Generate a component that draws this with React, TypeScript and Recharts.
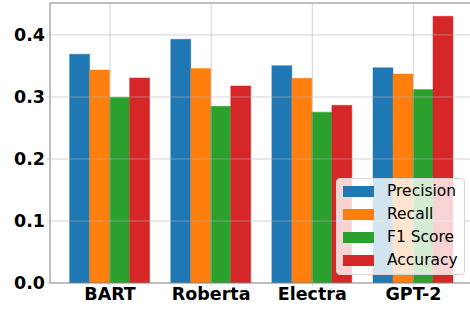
import React from "react";
import { BarChart, Bar, XAxis, YAxis, ReferenceLine } from "recharts";

const models = ["BART", "Roberta", "Electra", "GPT-2"];
const precision = [0.369, 0.393, 0.3505, 0.347];
const recall = [0.3435, 0.3457, 0.33, 0.337];
const f1Score = [0.2995, 0.285, 0.2755, 0.312];
const accuracy = [0.3306, 0.3177, 0.2866, 0.43];
const yTicks = [0, 0.1, 0.2, 0.3, 0.4];
const yMax = 0.4515;

const seriesNames = ["Precision", "Recall", "F1 Score", "Accuracy"];
const seriesKeys = ["precision", "recall", "f1", "accuracy"];
const colors = ["#1f77b4", "#ff7f0e", "#2ca02c", "#d62728"];

const data = models.map((m, i) => ({
  model: m,
  precision: precision[i],
  recall: recall[i],
  f1: f1Score[i],
  accuracy: accuracy[i],
}));

const FONT = "'DejaVu Sans', sans-serif";

const LegendBox = () => (
  <div
    style={{
      position: "absolute",
      left: 336,
      top: 178,
      boxSizing: "border-box",
      width: 129,
      height: 97,
      background: "rgba(255,255,255,0.8)",
      border: "1px solid #d6d6d6",
      borderRadius: 4,
      paddingTop: 1,
      fontFamily: FONT,
      fontSize: 15.5,
      color: "#000",
    }}
  >
    {seriesNames.map((n, i) => (
      <div key={n} style={{ display: "flex", alignItems: "center", height: 23.1, marginLeft: 6 }}>
        <div style={{ width: 31, height: 11, background: colors[i], marginRight: 13, flexShrink: 0 }} />
        <span style={{ lineHeight: "23px", whiteSpace: "nowrap" }}>{n}</span>
      </div>
    ))}
  </div>
);

export default function App() {
  return (
    <div
      style={{
        position: "fixed",
        left: 0,
        top: 0,
        width: 470,
        height: 309,
        overflow: "hidden",
        background: "#fff",
      }}
    >
      <BarChart
        width={480}
        height={309}
        data={data}
        margin={{ top: 3, right: 7, bottom: 0, left: 0 }}
        barCategoryGap="10%"
        barGap={0}
      >
        <XAxis
          dataKey="model"
          padding={{ left: 9.5, right: 9 }}
          height={26}
          tickSize={3}
          tickMargin={2}
          axisLine={{ stroke: "#808080", strokeWidth: 1 }}
          tickLine={{ stroke: "#c8c8c8" }}
          tick={{ fill: "#000", fontSize: 17.5, fontWeight: "bold", fontFamily: FONT }}
          interval={0}
        />
        <YAxis
          width={50}
          domain={[0, yMax]}
          ticks={yTicks}
          tickFormatter={(v: number) => v.toFixed(1)}
          tickSize={3}
          tickMargin={2}
          axisLine={{ stroke: "#808080", strokeWidth: 1 }}
          tickLine={{ stroke: "#c8c8c8" }}
          tick={{ fill: "#000", fontSize: 17.5, fontWeight: "bold", fontFamily: FONT }}
          allowDataOverflow
        />
        {seriesKeys.map((k, i) => (
          <Bar
            key={k}
            dataKey={k}
            name={seriesNames[i]}
            fill={colors[i]}
            stroke={colors[i]}
            strokeOpacity={0.45}
            strokeWidth={1}
            isAnimationActive={false}
          />
        ))}
        {yTicks.slice(1).map((t) => (
          <ReferenceLine key={"h" + t} y={t} stroke="#b0b0b0" strokeOpacity={0.55} strokeWidth={1} />
        ))}
        {models.map((m) => (
          <ReferenceLine key={"v" + m} x={m} stroke="#b0b0b0" strokeOpacity={0.55} strokeWidth={1} />
        ))}
        <ReferenceLine y={yMax} stroke="#808080" strokeWidth={1} />
      </BarChart>
      <LegendBox />
    </div>
  );
}
